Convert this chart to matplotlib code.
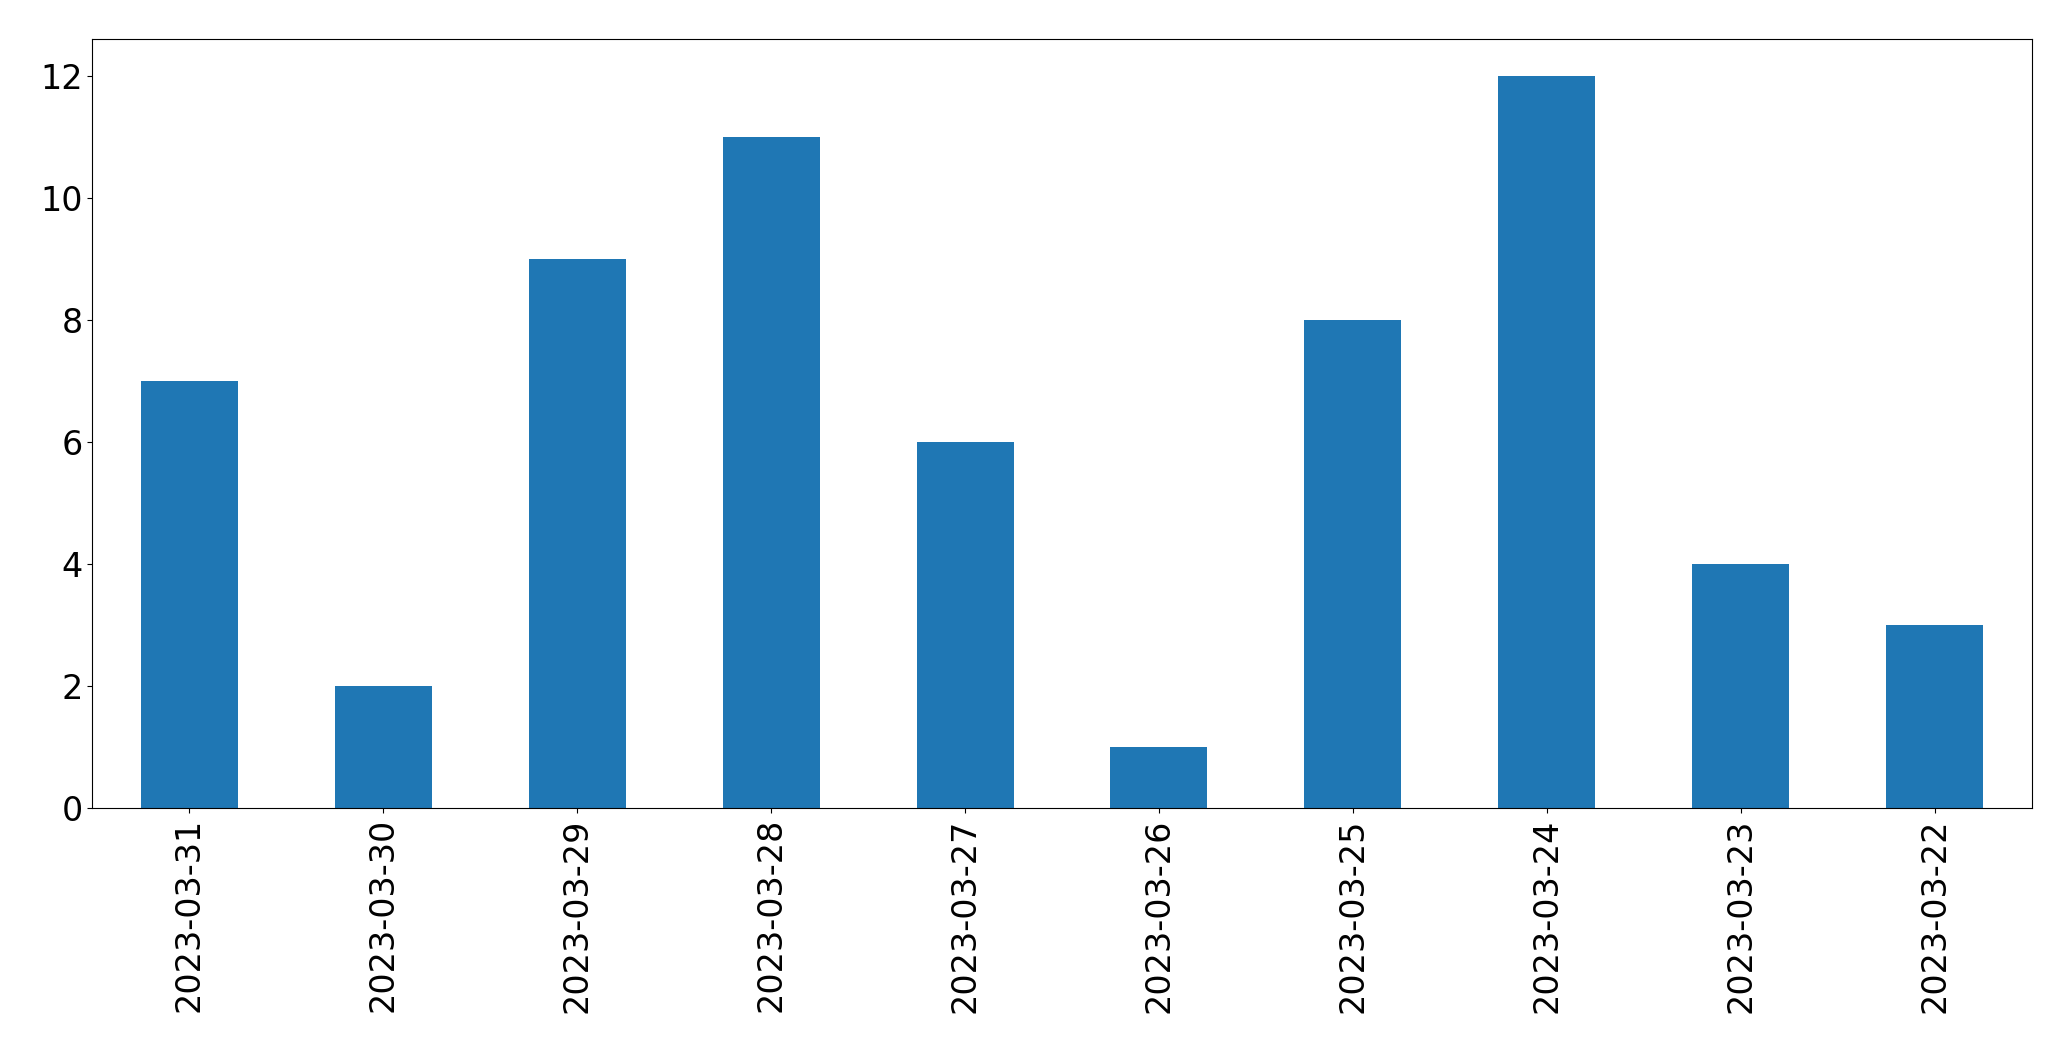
import matplotlib
matplotlib.use("Agg")
import matplotlib.pyplot as plt

dates = ["2023-03-31","2023-03-30","2023-03-29","2023-03-28","2023-03-27",
         "2023-03-26","2023-03-25","2023-03-24","2023-03-23","2023-03-22"]
counts = [7, 2, 9, 11, 6, 1, 8, 12, 4, 3]

fig = plt.figure(figsize=(20.71, 10.61), dpi=100)
ax = fig.add_axes([0.0446, 0.238, 0.9364, 0.725])
ax.bar(range(len(dates)), counts, width=0.5, color="#1f77b4")
ax.set_xticks(range(len(dates)))
ax.set_xticklabels(dates, rotation=90)
ax.set_xlim(-0.5, len(dates) - 0.5)
ax.set_ylim(0, 12.6)
ax.tick_params(labelsize=24)
fig.savefig("out.png", dpi=100)
